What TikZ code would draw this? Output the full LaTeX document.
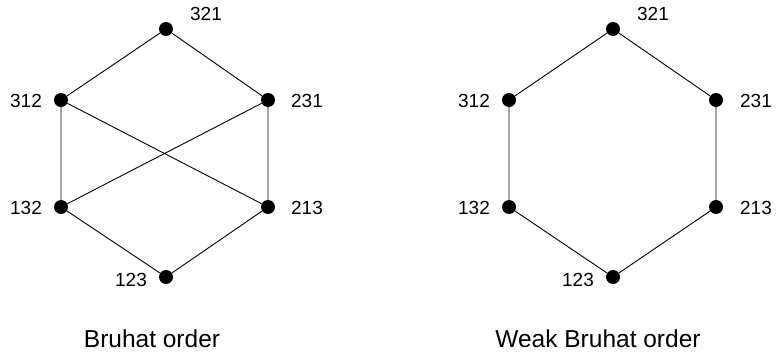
\documentclass[tikz,border=0pt]{standalone}
\usepackage{fontspec}
\setmainfont{Liberation Sans}
\begin{document}
\begin{tikzpicture}[x=1pt,y=-1pt,
  dot/.style={circle,fill=black,inner sep=0pt,minimum size=14pt},
  lab/.style={font=\fontsize{19}{19}\selectfont,inner sep=0pt},
  captxt/.style={font=\fontsize{24.5}{24.5}\selectfont,inner sep=0pt},
  conn/.style={line width=0.9pt}]
\useasboundingbox (0,0) rectangle (776,356);
% left: Bruhat order
\node[dot] (a321) at (166,29) {};
\node[dot] (a312) at (61,100) {};
\node[dot] (a231) at (268,100) {};
\node[dot] (a132) at (61,207) {};
\node[dot] (a213) at (268,207) {};
\node[dot] (a123) at (166,277) {};
\node[lab] (la321) at (206,14) {321};
\node[lab] (la312) at (26,101) {312};
\node[lab] (la231) at (307,101) {231};
\node[lab] (la132) at (26,207.5) {132};
\node[lab] (la213) at (307,207.5) {213};
\node[lab] (la123) at (131,280) {123};
\draw[conn] (a321) -- (a312) (a321) -- (a231)
  (a312) -- (a132) (a312) -- (a213)
  (a231) -- (a132) (a231) -- (a213)
  (a132) -- (a123) (a213) -- (a123);
\node[captxt] (ca) at (152,339) {Bruhat order};
% right: weak Bruhat order
\node[dot] (b321) at (613,29) {};
\node[dot] (b312) at (509,100) {};
\node[dot] (b231) at (716,100) {};
\node[dot] (b132) at (509,207) {};
\node[dot] (b213) at (716,207) {};
\node[dot] (b123) at (613,277) {};
\node[lab] (lb321) at (653,14) {321};
\node[lab] (lb312) at (474,101) {312};
\node[lab] (lb231) at (756,101) {231};
\node[lab] (lb132) at (474,207.5) {132};
\node[lab] (lb213) at (756,207.5) {213};
\node[lab] (lb123) at (578,280) {123};
\draw[conn] (b321) -- (b312) (b321) -- (b231)
  (b312) -- (b132) (b231) -- (b213)
  (b132) -- (b123) (b213) -- (b123);
\node[captxt] (cb) at (598,339) {Weak Bruhat order};
\end{tikzpicture}
\end{document}
